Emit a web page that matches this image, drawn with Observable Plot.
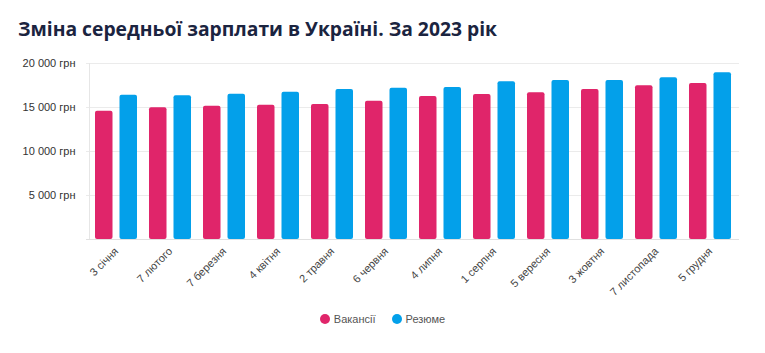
<!DOCTYPE html>
<html>
<head>
<meta charset="utf-8">
<script src="https://cdn.jsdelivr.net/npm/d3@7"></script>
<script src="https://cdn.jsdelivr.net/npm/@observablehq/plot@0.6"></script>
<style>
  html, body { margin: 0; padding: 0; background: #fff; }
  body { width: 765px; height: 353px; position: relative; overflow: hidden; font-family: "Liberation Sans", Arial, sans-serif; }
  #title { position: absolute; left: 18px; top: 15px; margin: 0; font-family: "Open Sans", "Noto Sans", sans-serif; font-weight: 700; font-size: 19.3px; color: #1b2440; white-space: nowrap; }
  #chart { position: absolute; left: 0; top: 50px; }
  #legend { position: absolute; left: 0; width: 765px; top: 313px; display: flex; justify-content: center; gap: 16px; font-size: 11px; color: #555; }
  .item { display: flex; align-items: center; gap: 4px; }
  .dot { width: 10px; height: 10px; border-radius: 50%; display: inline-block; }
</style>
</head>
<body>
<h2 id="title">Зміна середньої зарплати в Україні. За 2023 рік</h2>
<div id="chart"></div>
<div id="legend"></div>
<script>
const months = ["3 січня","7 лютого","7 березня","4 квітня","2 травня","6 червня","4 липня","1 серпня","5 вересня","3 жовтня","7 листопада","5 грудня"];
const series = ["Вакансії","Резюме"];
const vacancies = [14580,14960,15150,15260,15340,15720,16250,16480,16670,17050,17460,17730];
const resumes   = [16400,16330,16510,16740,17050,17200,17270,17920,18070,18070,18370,18940];
const yTicks = [5000,10000,15000,20000];
const colors = ["#e0256a","#03a0ea"];

const data = months.flatMap((m, i) => [
  {month: m, series: series[0], value: vacancies[i]},
  {month: m, series: series[1], value: resumes[i]}
]);

const fmt = d => d3.format(",")(d).replace(/,/g, " ") + " грн";

const chart = Plot.plot({
  width: 765,
  height: 290,
  marginTop: 13,
  marginBottom: 101,
  marginLeft: 86,
  marginRight: 26,
  style: {fontFamily: "'Liberation Sans', Arial, sans-serif", fontSize: "11px", color: "#333", background: "transparent"},
  x: {domain: months, padding: 0, axis: null},
  y: {domain: [0, 20000], axis: null},
  color: {domain: series, range: colors},
  marks: [
    Plot.gridY(yTicks, {stroke: "#ebebeb", strokeOpacity: 1}),
    Plot.ruleX([months[0]], {stroke: "#e6e6e6", y1: 0, y2: 20000, dx: -27}),
    Plot.barY(data.filter(d => d.series === series[0]), {x: "month", y: "value", fill: "series", insetLeft: 6, insetRight: 30.5, rx: 2}),
    Plot.barY(data.filter(d => d.series === series[1]), {x: "month", y: "value", fill: "series", insetLeft: 30.5, insetRight: 6, rx: 2}),
    Plot.ruleY([0], {stroke: "#e0e0e0"}),
    Plot.axisY(yTicks, {tickSize: 0, tickPadding: 11, tickFormat: fmt, fontSize: 11, fill: "#333", label: null}),
    Plot.axisX({tickSize: 0, tickRotate: -45, tickPadding: 10, fontSize: 11, fill: "#444", label: null})
  ]
});
document.getElementById("chart").appendChild(chart);

const legend = document.getElementById("legend");
series.forEach((s, i) => {
  const item = document.createElement("span");
  item.className = "item";
  const dot = document.createElement("span");
  dot.className = "dot";
  dot.style.background = colors[i];
  item.appendChild(dot);
  item.appendChild(document.createTextNode(s));
  legend.appendChild(item);
});
</script>
</body>
</html>
